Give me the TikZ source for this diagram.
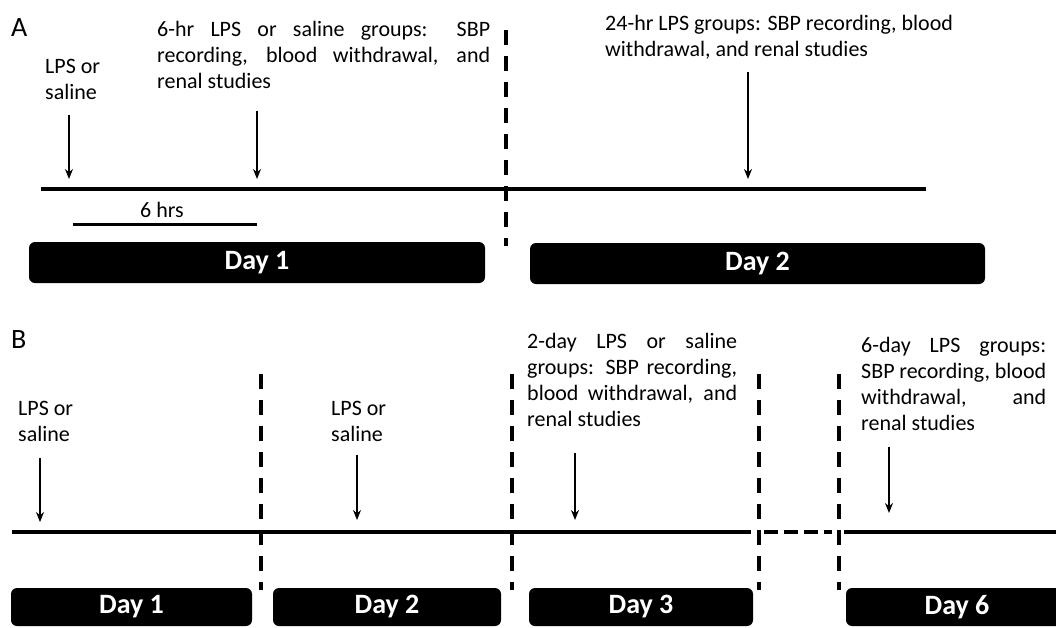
\documentclass[tikz,border=0pt]{standalone}
\usepackage{fontspec}
\setmainfont{Carlito}
\usetikzlibrary{arrows.meta,positioning}

\begin{document}
\begin{tikzpicture}[x=1pt, y=-1pt,
        daybox/.style={rectangle, fill=black, rounded corners=6pt, text=white,
                       inner sep=0pt, font=\fontsize{28}{32}\selectfont\bfseries},
        note/.style={inner sep=0pt, anchor=base west, font=\fontsize{22}{26}\selectfont},
        panel/.style={inner sep=0pt, anchor=base west, font=\fontsize{28}{32}\selectfont},
        pointer/.style={-{Stealth[length=10pt,width=8pt]}, line width=1.6pt},
        timeline/.style={line width=4pt},
        divider/.style={line width=4pt, dash pattern=on 15pt off 11pt},
      ]
      \useasboundingbox (0,0) rectangle (1056,627);
      % panel A
      \node[panel] (labA) at (11,36) {A};
      \node[note, align=left] (lpsA) at (45,99) {LPS or\\saline};
      \node[note, text width=333pt, align=justify] (hr6) at (157,36)
        {6-hr LPS or saline groups: SBP\linebreak recording, blood withdrawal, and\linebreak renal studies};
      \node[note, align=left] (hr24) at (605,56)
        {24-hr LPS groups: SBP recording, blood\\withdrawal, and renal studies};
      \coordinate (tA1) at (69,179);
      \coordinate (tA2) at (257,179);
      \coordinate (tA3) at (748,179);
      \draw[pointer] ([yshift=64pt]tA1) -- (tA1);
      \draw[pointer] ([yshift=68pt]tA2) -- (tA2);
      \draw[pointer] ([yshift=107pt]tA3) -- (tA3);
      \draw[timeline] (41,189) -- (926,189);
      \draw[divider] (506,30) -- (506,246);
      \node[note, anchor=base] (hrs) at (162,217) {6 hrs};
      \draw[line width=3pt] (73,224) -- (257,224);
      \node[daybox, minimum width=456pt, minimum height=41pt] (dA1) at (257,262.5) {Day 1};
      \node[daybox, minimum width=455pt, minimum height=41pt] (dA2) at (757.5,263.5) {Day 2};
      % panel B
      \node[panel] (labB) at (11,348) {B};
      \node[note, align=left] (lpsB1) at (18,441) {LPS or\\saline};
      \node[note, align=left] (lpsB2) at (331,441) {LPS or\\saline};
      \node[note, text width=210pt, align=justify] (day2g) at (527,348)
        {2-day LPS or saline\linebreak groups: SBP recording,\linebreak blood withdrawal, and\linebreak renal studies};
      \node[note, text width=185pt, align=justify] (day6g) at (861,352)
        {6-day LPS groups:\linebreak SBP recording, blood\linebreak withdrawal, and\linebreak renal studies};
      \coordinate (tB1) at (40,522);
      \coordinate (tB2) at (357,520);
      \coordinate (tB3) at (575,520);
      \coordinate (tB4) at (889,513);
      \draw[pointer] ([yshift=64pt]tB1) -- (tB1);
      \draw[pointer] ([yshift=65pt]tB2) -- (tB2);
      \draw[pointer] ([yshift=67pt]tB3) -- (tB3);
      \draw[pointer] ([yshift=66pt]tB4) -- (tB4);
      \draw[timeline] (12,532) -- (751,532);
      \draw[timeline, dash pattern=on 14pt off 6pt] (764,532) -- (832,532);
      \draw[timeline] (844,532) -- (1060,532);
      \draw[divider] (261,374) -- (261,590);
      \draw[divider] (512,374) -- (512,590);
      \draw[divider] (759,374) -- (759,590);
      \draw[divider] (839,374) -- (839,590);
      \node[daybox, minimum width=241pt, minimum height=38pt] (dB1) at (131.5,607) {Day 1};
      \node[daybox, minimum width=228pt, minimum height=38pt] (dB2) at (387,607) {Day 2};
      \node[daybox, minimum width=224pt, minimum height=38pt] (dB3) at (641,607) {Day 3};
      \node[daybox, minimum width=222pt, minimum height=38pt] (dB6) at (957,607) {Day 6};
    \end{tikzpicture}
\end{document}
